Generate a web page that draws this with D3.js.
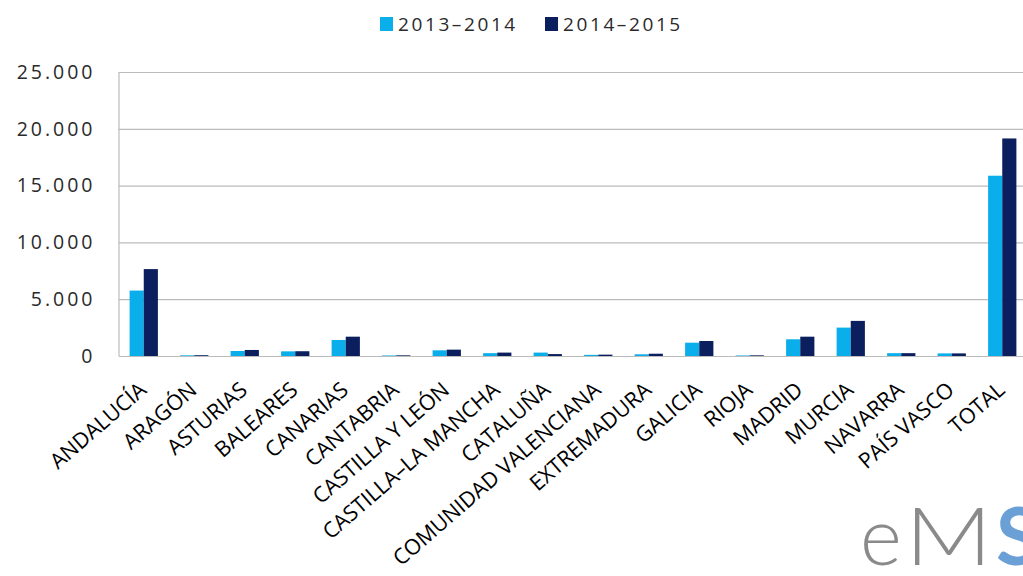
<!DOCTYPE html>
<html>
<head>
<meta charset="utf-8">
<script src="https://cdn.jsdelivr.net/npm/d3@7/dist/d3.min.js"></script>
<style>
  html, body { margin: 0; padding: 0; background: #fff; }
  svg { display: block; }
</style>
</head>
<body>
<svg id="chart" width="1023" height="576"></svg>
<script>
// Regions (comunidades autónomas) and the two school years
const categories = ["ANDALUCÍA", "ARAGÓN", "ASTURIAS", "BALEARES", "CANARIAS", "CANTABRIA",
  "CASTILLA Y LEÓN", "CASTILLA–LA MANCHA", "CATALUÑA", "COMUNIDAD VALENCIANA", "EXTREMADURA",
  "GALICIA", "RIOJA", "MADRID", "MURCIA", "NAVARRA", "PAÍS VASCO", "TOTAL"];
const seriesNames = ["2013–2014", "2014–2015"];
const values2013 = [5760, 60, 440, 410, 1410, 50, 500, 250, 300, 100, 150, 1170, 50, 1470, 2500, 250, 230, 15870];
const values2014 = [7650, 70, 530, 420, 1700, 60, 560, 300, 170, 120, 200, 1320, 60, 1700, 3090, 250, 230, 19150];
const yTicks = [0, 5000, 10000, 15000, 20000, 25000];
const colors = ["#0aaeea", "#0b1f5e"];

const svg = d3.select("#chart");
const plotLeft = 118.5, plotTop = 72, plotBottom = 356;
const bandStep = 50.5;
const plotRight = plotLeft + bandStep * categories.length;

const x = d3.scaleBand().domain(categories).range([plotLeft, plotRight]).paddingInner(0.44).paddingOuter(0.22);
const xs = d3.scaleBand().domain(seriesNames).range([0, x.bandwidth()]);
const y = d3.scaleLinear().domain([0, 25000]).range([plotBottom, plotTop]);

const fmt = d => d3.format(",")(d).replace(/,/g, ".");

// gridlines
svg.append("g").selectAll("line").data(yTicks.filter(d => d > 0)).join("line")
  .attr("x1", plotLeft).attr("x2", 1023)
  .attr("y1", d => y(d) + 0.5).attr("y2", d => y(d) + 0.5)
  .attr("stroke", "#bcbcbc").attr("stroke-width", 1.2);

// y axis labels
const yAxis = svg.append("g").attr("transform", `translate(${plotLeft},0)`)
  .call(d3.axisLeft(y).tickValues(yTicks).tickFormat(fmt).tickSize(0).tickPadding(23));
yAxis.select(".domain").attr("stroke", "#bcbcbc").attr("stroke-width", 1.2);
yAxis.selectAll("text")
  .attr("font-family", "'Open Sans', sans-serif").attr("font-size", 19.5)
  .attr("fill", "#2a2a2a").attr("letter-spacing", "3px");

// bars
const groups = svg.append("g").selectAll("g").data(categories).join("g")
  .attr("transform", d => `translate(${x(d)},0)`);
groups.selectAll("rect")
  .data((d, i) => [
    { s: seriesNames[0], v: values2013[i] },
    { s: seriesNames[1], v: values2014[i] }
  ])
  .join("rect")
  .attr("x", d => xs(d.s))
  .attr("width", xs.bandwidth())
  .attr("y", d => y(d.v))
  .attr("height", d => plotBottom - y(d.v))
  .attr("fill", (d, i) => colors[i]);

// x axis baseline and rotated labels
const xAxis = svg.append("g").attr("transform", `translate(0,${plotBottom})`)
  .call(d3.axisBottom(x).tickSize(0).tickPadding(0));
xAxis.select(".domain").attr("stroke", "#bcbcbc").attr("stroke-width", 1.2);
xAxis.selectAll("text")
  .attr("font-family", "'Open Sans', sans-serif").attr("font-size", 21.5)
  .attr("fill", "#000")
  .attr("text-anchor", "end")
  .attr("dy", 0)
  .attr("transform", "translate(4,36) rotate(-41)");

// legend
const legend = svg.append("g");
const legendX = [380, 545];
seriesNames.forEach((name, i) => {
  legend.append("rect").attr("x", legendX[i]).attr("y", 17).attr("width", 13).attr("height", 14)
    .attr("fill", colors[i]);
  legend.append("text").attr("x", legendX[i] + 18).attr("y", 31)
    .attr("font-family", "'Open Sans', sans-serif").attr("font-size", 19)
    .attr("letter-spacing", "2.6px").attr("fill", "#2a2a2a").text(name);
});

// logo
const logo = svg.append("g").attr("font-family", "Lato, sans-serif").attr("font-size", 80);
logo.append("text").attr("x", 860).attr("y", 565).attr("font-weight", 300)
  .attr("fill", "#8a8a8a").text("e");
logo.append("text").attr("transform", "translate(905,565) scale(1.2,1)").attr("font-weight", 300)
  .attr("fill", "#8a8a8a").text("M");
logo.append("text").attr("x", 996).attr("y", 565).attr("font-weight", "bold")
  .attr("fill", "#6aa0d6").text("S");
</script>
</body>
</html>
